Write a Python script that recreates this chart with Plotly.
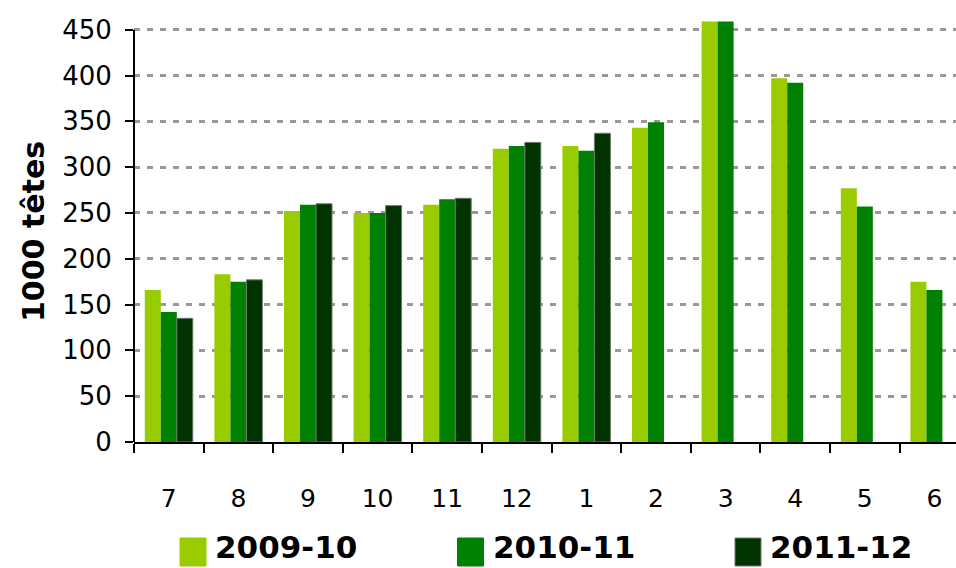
import plotly.graph_objects as go

months = ["7", "8", "9", "10", "11", "12", "1", "2", "3", "4", "5", "6"]
series_names = ["2009-10", "2010-11", "2011-12"]
s2009_10 = [166, 183, 252, 250, 259, 320, 323, 343, 459, 397, 277, 175]
s2010_11 = [142, 175, 259, 250, 265, 323, 318, 349, 459, 392, 257, 166]
s2011_12 = [135, 177, 260, 258, 266, 327, 337, None, None, None, None, None]
y_ticks = [0, 50, 100, 150, 200, 250, 300, 350, 400, 450]

colors = ["#99CC00", "#008000", "#003300"]
font_family = "Comic Sans MS, DejaVu Sans, sans-serif"

W, H = 956, 568
L, R, T, B = 134, 0, 21, 126
pw, ph = W - L - R, H - T - B

fig = go.Figure()
for name, vals, col in zip(series_names, [s2009_10, s2010_11, s2011_12], colors):
    fig.add_trace(go.Bar(
        x=months,
        y=vals,
        name=name,
        marker=dict(
            color=col,
            line=dict(color="#6b7f6b" if name == "2011-12" else col,
                      width=1 if name == "2011-12" else 0),
        ),
        showlegend=False,
    ))

# legend drawn by hand so the swatches can be as large as in the original
def px_x(p):
    return (p - L) / pw

def px_y(p):
    return (T + ph - p) / ph

shapes = [
    # y axis line only up to the last tick, like the original
    dict(type="line", xref="paper", yref="y", x0=0, x1=0, y0=0, y1=y_ticks[-1],
         line=dict(color="black", width=2)),
]
annotations = []
for i, (name, col) in enumerate(zip(series_names, colors)):
    x0 = 180 + i * 277.5
    shapes.append(dict(
        type="rect", xref="paper", yref="paper",
        x0=px_x(x0), x1=px_x(x0 + 26), y0=px_y(566), y1=px_y(538),
        fillcolor=col, line=dict(color="#6b7f6b" if i == 2 else col, width=1),
    ))
    annotations.append(dict(
        xref="paper", yref="paper", x=px_x(x0 + 33), y=px_y(547),
        xanchor="left", yanchor="middle", showarrow=False,
        text="<b>%s</b>" % name,
        font=dict(family=font_family, size=31, color="black"),
    ))

fig.update_layout(
    width=W, height=H,
    margin=dict(l=L, r=R, t=T, b=B),
    plot_bgcolor="white",
    paper_bgcolor="white",
    barmode="group",
    bargap=0.31,
    bargroupgap=0,
    shapes=shapes,
    annotations=annotations,
    font=dict(family=font_family, size=26, color="black"),
)

fig.update_xaxes(
    type="category",
    range=[-0.5, 11.31],
    showline=True, linecolor="black", linewidth=2,
    ticks="outside", tickson="boundaries", ticklen=9, tickwidth=2, tickcolor="black",
    ticklabelstandoff=33,
    tickfont=dict(size=25),
    showgrid=False,
)

fig.update_yaxes(
    range=[0, 459.5],
    tickvals=y_ticks,
    showline=False,
    ticks="outside", ticklen=8, tickwidth=2, tickcolor="black",
    ticklabelstandoff=8,
    tickfont=dict(size=26),
    showgrid=True, gridcolor="#999999", gridwidth=2.5, griddash="6px,7px",
    zeroline=False,
    title=dict(text="<b>1000 têtes</b>", font=dict(size=30), standoff=8),
)

fig.write_html("out.html", config={"displayModeBar": False},
               post_script="document.body.style.margin='0';")
